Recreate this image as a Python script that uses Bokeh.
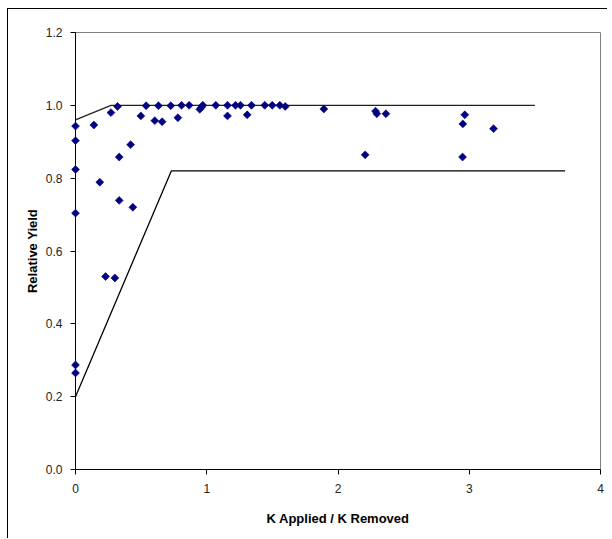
import math
from bokeh.plotting import figure
from bokeh.models import Range1d, FixedTicker, NumeralTickFormatter
from bokeh.embed import file_html
from bokeh.resources import INLINE

# Observed data: K Applied / K Removed vs Relative Yield
k_ratio = [0, 0, 0, 0, 0, 0,
           0.14, 0.185, 0.229, 0.27, 0.30, 0.32, 0.333, 0.333, 0.42, 0.437,
           0.498, 0.538, 0.604, 0.632, 0.66, 0.726, 0.78, 0.808, 0.866,
           0.947, 0.96, 0.97, 1.069, 1.158, 1.158, 1.219, 1.257, 1.308,
           1.341, 1.442, 1.499, 1.557, 1.598, 1.892, 2.207, 2.286, 2.296,
           2.365, 2.949, 2.951, 2.966, 3.185]
rel_yield = [0.943, 0.903, 0.824, 0.704, 0.287, 0.265,
             0.946, 0.789, 0.530, 0.980, 0.526, 0.997, 0.858, 0.739, 0.892, 0.720,
             0.971, 0.999, 0.958, 0.999, 0.955, 0.999, 0.966, 1.0, 1.0,
             0.989, 0.995, 1.0, 1.0, 1.0, 0.971, 1.0, 1.0, 0.974,
             1.0, 1.0, 1.0, 1.0, 0.997, 0.990, 0.864, 0.984, 0.977,
             0.977, 0.858, 0.949, 0.974, 0.936]

# Boundary lines
upper_x = [0, 0.27, 3.5]
upper_y = [0.96, 1.0, 1.0]
lower_x = [0, 0.73, 3.73]
lower_y = [0.2, 0.82, 0.82]

x_ticks = [0, 1, 2, 3, 4]
y_ticks = [0.0, 0.2, 0.4, 0.6, 0.8, 1.0, 1.2]

p = figure(width=600, height=530, output_backend="svg", toolbar_location=None,
           x_range=Range1d(0, 4), y_range=Range1d(0, 1.2),
           min_border_left=67, min_border_right=8, min_border_top=23,
           min_border_bottom=70)
p.styles = {"margin-left": "7px", "margin-top": "8px",
            "border-top": "1px solid black", "border-left": "1px solid black"}

p.background_fill_color = "white"
p.border_fill_color = "white"
p.outline_line_color = "#808080"
p.outline_line_width = 1
p.xgrid.visible = False
p.ygrid.visible = False

p.line(upper_x, upper_y, line_color="#222222", line_width=1.3)
p.line(lower_x, lower_y, line_color="black", line_width=1.3)
pts = p.scatter(k_ratio, rel_yield, marker="square", angle=math.pi / 4, size=5.6,
                fill_color="#000080", line_color="#000080", line_width=0.6)
pts.level = "overlay"

for ax in (p.xaxis[0], p.yaxis[0]):
    ax.axis_line_color = "black"
    ax.axis_line_width = 1
    ax.major_tick_line_color = "black"
    ax.major_tick_in = 0
    ax.major_tick_out = 5
    ax.minor_tick_line_color = None
    ax.major_label_text_font = "Liberation Sans"
    ax.major_label_text_font_size = "12px"
    ax.major_label_text_color = "#222222"
    ax.axis_label_text_font = "Liberation Sans"
    ax.axis_label_text_font_size = "13px"
    ax.axis_label_text_font_style = "bold"
    ax.axis_label_text_color = "black"

p.xaxis.ticker = FixedTicker(ticks=x_ticks)
p.yaxis.ticker = FixedTicker(ticks=y_ticks)
p.yaxis.formatter = NumeralTickFormatter(format="0.0")
p.xaxis.axis_label = "K Applied / K Removed"
p.yaxis.axis_label = "Relative Yield"
p.xaxis.major_label_standoff = 9
p.yaxis.major_label_standoff = 8
p.xaxis.axis_label_standoff = 15
p.yaxis.axis_label_standoff = 3

open("out.html", "w").write(file_html(p, INLINE))
